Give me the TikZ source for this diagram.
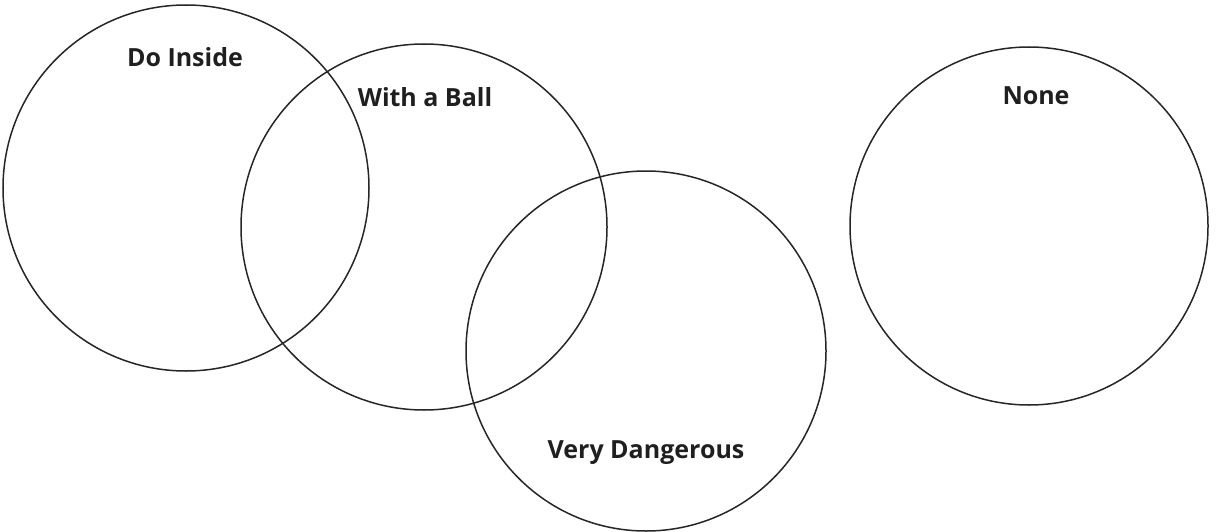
\documentclass[tikz,border=0pt]{standalone}
\usepackage{fontspec}
\setmainfont{Open Sans}
\begin{document}
\begin{tikzpicture}[x=1pt, y=-1pt, line width=1.5pt]
\tikzset{setring/.style={draw=black!85, circle, inner sep=0pt},
  setlabel/.style={font=\bfseries\fontsize{25}{28}\selectfont, text=black!88}}
\useasboundingbox (0,0) rectangle (1222,532);
\node[setring, minimum size=366pt] (inside) at (186,188) {};
\node[setring, minimum size=366pt] (ball) at (424,227) {};
\node[setring, minimum size=360pt] (danger) at (646,351) {};
\node[setring, minimum size=358pt] (none) at (1029,226) {};

\node[setlabel] (insidetxt) at (185,57) {Do Inside};
\node[setlabel] (balltxt) at (425,97) {With a Ball};
\node[setlabel] (dangertxt) at (646,453) {Very Dangerous};
\node[setlabel] (nonetxt) at (1036,96) {None};
\end{tikzpicture}
\end{document}
